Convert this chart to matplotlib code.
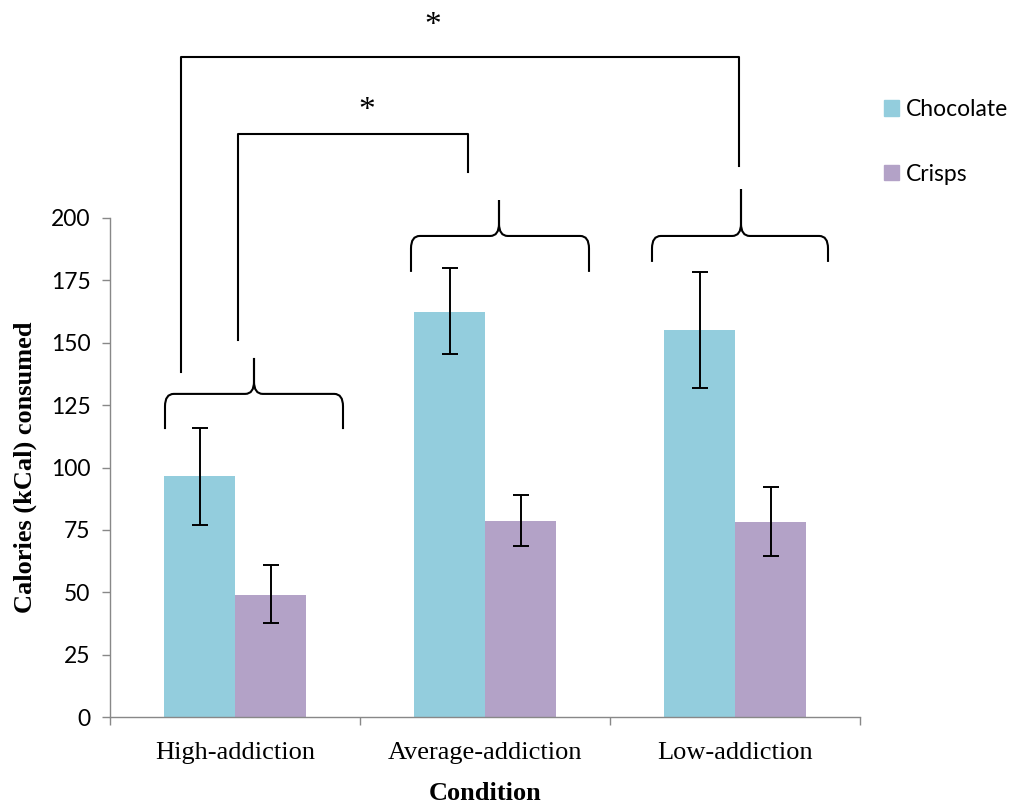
import numpy as np
import matplotlib
matplotlib.use("Agg")
import matplotlib.pyplot as plt
from matplotlib.path import Path
from matplotlib.patches import PathPatch, Patch

# ---------------- DATA ----------------
conditions = ["High-addiction", "Average-addiction", "Low-addiction"]
chocolate = [96.5, 162.5, 155.0]
chocolate_err_lo = [19.5, 17.0, 23.0]
chocolate_err_hi = [19.5, 17.5, 23.5]
crisps = [49.0, 78.5, 78.0]
crisps_err_lo = [11.5, 10.0, 13.5]
crisps_err_hi = [12.0, 10.5, 14.0]

# braces above each group: (left, centre, right, bottom, middle, tip)
braces = [
    (-0.28, 0.076, 0.432, 115.4, 129.5, 143.9),
    (0.704, 1.056, 1.416, 178.4, 192.8, 207.2),
    (1.668, 2.024, 2.372, 182.4, 192.8, 211.6),
]
# significance brackets: (x left, y left bottom, x right, y right bottom, y top)
brackets = [
    (-0.216, 138.3, 2.016, 220.8, 264.5),
    (0.012, 151.1, 0.932, 218.4, 233.7),
]
stars = [(0.792, 277.0), (0.528, 243.0)]

choc_color = "#93CDDD"
crisp_color = "#B3A2C7"
serif = "Liberation Serif"
sans = "Lato"

# ---------------- PLOT ----------------
fig = plt.figure(figsize=(10.18, 8.09), dpi=100)
ax = fig.add_axes([110/1018, 92/809, 750/1018, 499/809])

x = np.arange(len(conditions))
w = 0.284
ekw = dict(elinewidth=1.4, capthick=1.4, ecolor="black")
ax.bar(x - w/2, chocolate, w, color=choc_color,
       yerr=[chocolate_err_lo, chocolate_err_hi], capsize=6, error_kw=ekw)
ax.bar(x + w/2, crisps, w, color=crisp_color,
       yerr=[crisps_err_lo, crisps_err_hi], capsize=6, error_kw=ekw)

ax.set_xlim(-0.5, 2.5)
ax.set_ylim(0, 200)
ax.set_yticks(np.arange(0, 201, 25))
ax.set_xticks([-0.5, 0.5, 1.5, 2.5])
ax.set_xticklabels([])
ax.set_xticks(x, minor=True)
ax.set_xticklabels(conditions, minor=True, fontfamily=serif, fontsize=19)
ax.tick_params(axis="x", which="minor", length=0, pad=18)
ax.tick_params(axis="x", which="major", length=6, color="#888888", width=1)
ax.tick_params(axis="y", length=6, color="#888888", width=1, pad=8)
for lab in ax.get_yticklabels():
    lab.set_fontfamily(sans)
    lab.set_fontsize(16.5)

for s in ["top", "right"]:
    ax.spines[s].set_visible(False)
for s in ["left", "bottom"]:
    ax.spines[s].set_color("#888888")
    ax.spines[s].set_linewidth(1)

ax.set_ylabel("Calories (kCal) consumed", fontfamily=serif, fontweight="bold",
              fontsize=19, labelpad=10)
ax.set_xlabel("Condition", fontfamily=serif, fontweight="bold", fontsize=19,
              labelpad=13)

# braces
rx, ry = 0.035, 5.0
for x0, xc, x1, yb, ym, yt in braces:
    for sgn, xe in ((1, x0), (-1, x1)):
        verts = [(xe, yb), (xe, ym - ry), (xe, ym), (xe + sgn*rx, ym),
                 (xc - sgn*rx, ym), (xc, ym), (xc, ym + ry), (xc, yt)]
        codes = [Path.MOVETO, Path.LINETO, Path.CURVE3, Path.CURVE3,
                 Path.LINETO, Path.CURVE3, Path.CURVE3, Path.LINETO]
        ax.add_patch(PathPatch(Path(verts, codes), fill=False, lw=1.5,
                               color="black", clip_on=False))

# significance brackets
for xl, yl, xr, yr, yt in brackets:
    ax.plot([xl, xl, xr, xr], [yl, yt, yt, yr], color="black", lw=1.5,
            clip_on=False)
for sx, sy in stars:
    ax.text(sx, sy, "*", ha="center", va="center", fontsize=24,
            fontfamily=serif, clip_on=False)

# legend
handles = [Patch(color=choc_color, label="Chocolate"),
           Patch(color=crisp_color, label="Crisps")]
leg = fig.legend(handles=handles, loc="upper left",
                 bbox_to_anchor=(884/1018, 1 - 99/809), frameon=False,
                 borderpad=0, borderaxespad=0,
                 handlelength=0.65, handleheight=0.65, handletextpad=0.3,
                 labelspacing=1.9, prop={"family": sans, "size": 16.5})

fig.savefig("out.png", dpi=100)
